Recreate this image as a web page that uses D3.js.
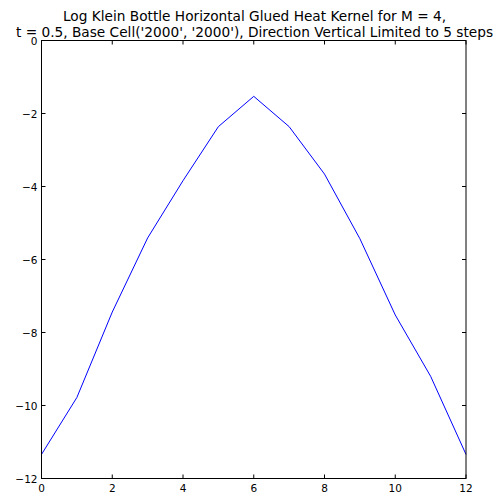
<!DOCTYPE html>
<html><head><meta charset="utf-8">
<script src="https://cdn.jsdelivr.net/npm/d3@7"></script>
<style>body{margin:0;background:#fff}svg{display:block}text{font-family:"DejaVu Sans",sans-serif}</style>
</head><body>
<script>
const steps = [0,1,2,3,4,5,6,7,8,9,10,11,12];
const logKernel = [-11.34,-9.78,-7.44,-5.41,-3.84,-2.36,-1.53,-2.36,-3.66,-5.43,-7.52,-9.2,-11.34];
const xTicks = [0,2,4,6,8,10,12];
const yTicks = [0,-2,-4,-6,-8,-10,-12];
const titleLines = ["Log Klein Bottle Horizontal Glued Heat Kernel for M = 4,",
  "t = 0.5, Base Cell('2000', '2000'), Direction Vertical Limited to 5 steps"];

const W=501,H=498;
const m={left:41.5,right:466,top:40.5,bottom:478.5};
const svg=d3.select("body").append("svg").attr("width",W).attr("height",H);
const x=d3.scaleLinear().domain([0,12]).range([m.left,m.right]);
const y=d3.scaleLinear().domain([-12,0]).range([m.bottom,m.top]);

svg.append("path").datum(steps.map((s,i)=>[s,logKernel[i]]))
  .attr("fill","none").attr("stroke","#0000ff").attr("stroke-width",1)
  .attr("d",d3.line().x(d=>x(d[0])).y(d=>y(d[1])));

svg.append("rect").attr("x",m.left).attr("y",m.top).attr("width",m.right-m.left).attr("height",m.bottom-m.top)
  .attr("fill","none").attr("stroke","#000").attr("stroke-width",1);

const fmt=d=>d<0?"\u2212"+Math.abs(d):String(d);
const g=svg.append("g");
xTicks.forEach(t=>{
  const px=x(t);
  g.append("line").attr("x1",px).attr("x2",px).attr("y1",m.bottom).attr("y2",m.bottom-4).attr("stroke","#000");
  g.append("line").attr("x1",px).attr("x2",px).attr("y1",m.top).attr("y2",m.top+4).attr("stroke","#000");
  g.append("text").attr("x",px).attr("y",m.bottom+13).attr("text-anchor","middle").attr("font-size",10.5).text(fmt(t));
});
yTicks.forEach(t=>{
  const py=y(t);
  g.append("line").attr("y1",py).attr("y2",py).attr("x1",m.left).attr("x2",m.left+4).attr("stroke","#000");
  g.append("line").attr("y1",py).attr("y2",py).attr("x1",m.right).attr("x2",m.right-4).attr("stroke","#000");
  g.append("text").attr("x",m.left-4).attr("y",py+4).attr("text-anchor","end").attr("font-size",10.5).text(fmt(t));
});
titleLines.forEach((l,i)=>{
  svg.append("text").attr("x",254.5).attr("y",21+i*15.5).attr("text-anchor","middle")
    .attr("font-size",13.7).text(l);
});
</script>
</body></html>
